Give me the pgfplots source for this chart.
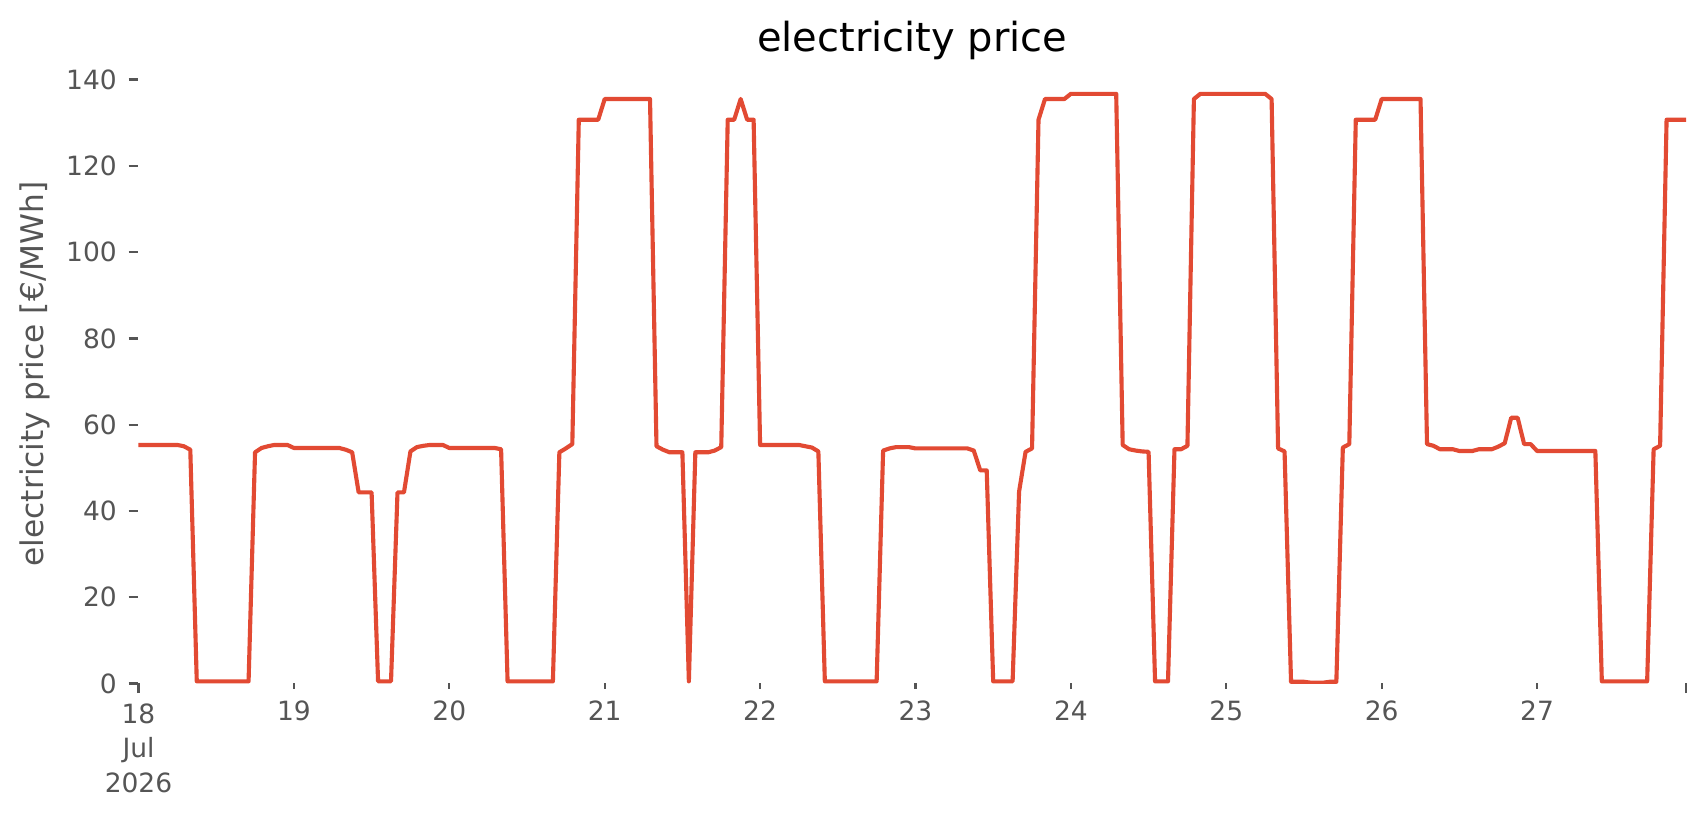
\documentclass[border=0pt]{standalone}
\usepackage{fontspec}
\setmainfont{DejaVu Sans}
\usepackage{pgfplots}
\pgfplotsset{compat=1.18}
\usepackage{pgfplotstable}
\definecolor{ggred}{HTML}{E24A33}
\definecolor{ggtext}{HTML}{555555}

% hours since 18 Jul 2026 00:00, price in EUR/MWh
\pgfplotstableread{
h p
0 55.3
1 55.3
2 55.3
3 55.3
4 55.3
5 55.3
6 55.3
7 55.0
8 54.2
9 0.5
10 0.5
11 0.5
12 0.5
13 0.5
14 0.5
15 0.5
16 0.5
17 0.5
18 53.6
19 54.6
20 55.0
21 55.3
22 55.3
23 55.3
24 54.6
25 54.6
26 54.6
27 54.6
28 54.6
29 54.6
30 54.6
31 54.6
32 54.2
33 53.6
34 44.3
35 44.3
36 44.3
37 0.5
38 0.5
39 0.5
40 44.3
41 44.3
42 53.8
43 54.8
44 55.1
45 55.3
46 55.3
47 55.3
48 54.6
49 54.6
50 54.6
51 54.6
52 54.6
53 54.6
54 54.6
55 54.6
56 54.3
57 0.5
58 0.5
59 0.5
60 0.5
61 0.5
62 0.5
63 0.5
64 0.5
65 53.6
66 54.5
67 55.5
68 130.7
69 130.7
70 130.7
71 130.7
72 135.5
73 135.5
74 135.5
75 135.5
76 135.5
77 135.5
78 135.5
79 135.5
80 55.0
81 54.2
82 53.6
83 53.6
84 53.6
85 0.5
86 53.6
87 53.6
88 53.6
89 54.0
90 54.8
91 130.7
92 130.7
93 135.5
94 130.7
95 130.7
96 55.3
97 55.3
98 55.3
99 55.3
100 55.3
101 55.3
102 55.3
103 55.0
104 54.7
105 53.8
106 0.5
107 0.5
108 0.5
109 0.5
110 0.5
111 0.5
112 0.5
113 0.5
114 0.5
115 54.0
116 54.5
117 54.8
118 54.8
119 54.8
120 54.5
121 54.5
122 54.5
123 54.5
124 54.5
125 54.5
126 54.5
127 54.5
128 54.5
129 54.0
130 49.4
131 49.4
132 0.5
133 0.5
134 0.5
135 0.5
136 44.5
137 53.7
138 54.5
139 130.7
140 135.5
141 135.5
142 135.5
143 135.5
144 136.7
145 136.7
146 136.7
147 136.7
148 136.7
149 136.7
150 136.7
151 136.7
152 55.3
153 54.3
154 54.0
155 53.8
156 53.7
157 0.5
158 0.5
159 0.5
160 54.3
161 54.3
162 55.1
163 135.5
164 136.7
165 136.7
166 136.7
167 136.7
168 136.7
169 136.7
170 136.7
171 136.7
172 136.7
173 136.7
174 136.7
175 135.5
176 54.5
177 53.8
178 0.4
179 0.4
180 0.4
181 0.2
182 0.2
183 0.2
184 0.4
185 0.4
186 54.7
187 55.5
188 130.7
189 130.7
190 130.7
191 130.7
192 135.5
193 135.5
194 135.5
195 135.5
196 135.5
197 135.5
198 135.5
199 55.5
200 55.1
201 54.3
202 54.3
203 54.3
204 53.9
205 53.9
206 53.9
207 54.3
208 54.3
209 54.3
210 54.9
211 55.7
212 61.6
213 61.6
214 55.5
215 55.5
216 53.9
217 53.9
218 53.9
219 53.9
220 53.9
221 53.9
222 53.9
223 53.9
224 53.9
225 53.9
226 0.5
227 0.5
228 0.5
229 0.5
230 0.5
231 0.5
232 0.5
233 0.5
234 54.3
235 55.1
236 130.7
237 130.7
238 130.7
239 130.7
}\pricedata

\begin{document}
\begin{tikzpicture}
\begin{axis}[
  name=ax,
  scale only axis,
  width=619pt, height=247.6pt,
  xmin=0, xmax=239, ymin=0, ymax=143.5,
  axis line style={draw=none},
  tick align=outside,
  xtick pos=bottom, ytick pos=left,
  major tick length=3.9pt,
  minor tick length=2.2pt,
  tick style={ggtext, line width=0.9pt},
  xtick={0,239},
  xticklabels={{18\\Jul\\2026},{}},
  minor xtick={24,48,...,216},
  extra x ticks={24,48,...,216},
  extra x tick labels={19,20,21,22,23,24,25,26,27},
  extra x tick style={tick style={draw=none}, xticklabel style={yshift=1.1pt}},
  ytick={0,20,...,140},
  ticklabel style={font=\fontsize{10.6}{13.8}\selectfont, text=ggtext, inner sep=0pt},
  /pgf/number format/assume math mode=true,
  xticklabel style={anchor=north, align=center, yshift=-4.0pt},
  yticklabel style={anchor=east, xshift=-4.6pt},
  every axis title/.style={at={(rel axis cs:0.5,1)}, anchor=base, yshift=5.1pt, inner sep=0pt,
    font=\fontsize{16}{19}\selectfont, text=black},
  title={electricity price},
  every axis y label/.style={at={(rel axis cs:0,0.5)}, xshift=-47.8pt, rotate=90, anchor=north,
    inner sep=0pt, font=\fontsize{12.5}{15}\selectfont, text=ggtext},
  ylabel={electricity price [€/MWh]},
]
\addplot[ggred, line width=1.65pt, line join=round, mark=none] table[x=h, y=p] {\pricedata};
\end{axis}
\pgfresetboundingbox
\path[use as bounding box] ([xshift=-55.4pt,yshift=-52.6pt]ax.south west) rectangle ([xshift=8pt,yshift=25.8pt]ax.north east);
\end{tikzpicture}
\end{document}
